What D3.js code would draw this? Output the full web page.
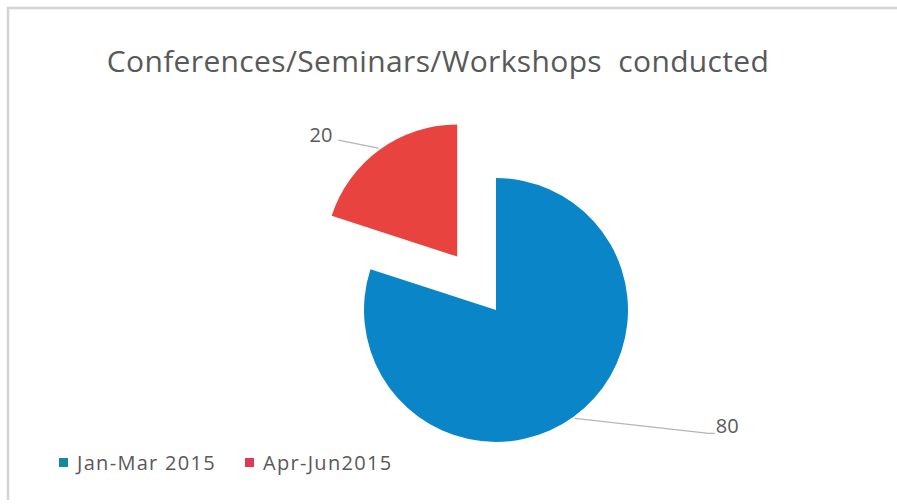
<!DOCTYPE html>
<html>
<head>
<meta charset="utf-8">
<script src="https://cdn.jsdelivr.net/npm/d3@7"></script>
<style>
  body { margin: 0; background: #fff; }
  svg { display: block; }
</style>
</head>
<body>
<svg id="chart" width="897" height="504"></svg>
<script>
var categories = ['Jan-Mar 2015', 'Apr-Jun2015'];
var values = [80, 20];
var colors = ['#0a86c8', '#e8433f'];
var legendColors = ['#15879f', '#dc3a55'];
var exploded = [false, true];

var svg = d3.select('#chart');
var W = 897, H = 504;
var cx = 496, cy = 310, radius = 132, explode = 66;

// chart frame (only top/left visible)
svg.append('path')
  .attr('d', 'M8,' + (H - 4) + ' L8,8 L' + W + ',8')
  .attr('fill', 'none')
  .attr('stroke', '#d4d4d4')
  .attr('stroke-width', 2.5);

svg.append('text')
  .attr('x', 438)
  .attr('y', 72)
  .attr('text-anchor', 'middle')
  .attr('font-family', 'Open Sans, sans-serif')
  .attr('font-size', 30)
  .attr('letter-spacing', 0.35)
  .attr('fill', '#595959')
  .style('white-space', 'pre')
  .text('Conferences/Seminars/Workshops  conducted');

var pie = d3.pie().sort(null).value(function (d) { return d; });
var arcs = pie(values);
var arc = d3.arc().innerRadius(0).outerRadius(radius);

function shift(d, i) {
  if (!exploded[i]) return [0, 0];
  var a = (d.startAngle + d.endAngle) / 2;
  return [Math.sin(a) * explode, -Math.cos(a) * explode];
}

var g = svg.append('g').attr('transform', 'translate(' + cx + ',' + cy + ')');

g.selectAll('path.slice')
  .data(arcs)
  .join('path')
  .attr('class', 'slice')
  .attr('d', arc)
  .attr('fill', function (d, i) { return colors[i]; })
  .attr('transform', function (d, i) {
    var s = shift(d, i);
    return 'translate(' + s[0] + ',' + s[1] + ')';
  });

// leader lines + labels (best-fit offsets like Excel)
var labelOffsets = [[140, 15], [-40, -8]];
var edgeArc = d3.arc().innerRadius(radius + 2).outerRadius(radius + 2);

arcs.forEach(function (d, i) {
  var s = shift(d, i);
  var c = edgeArc.centroid(d);
  var x0 = c[0] + s[0], y0 = c[1] + s[1];
  var x1 = x0 + labelOffsets[i][0], y1 = y0 + labelOffsets[i][1];
  var right = labelOffsets[i][0] > 0;
  g.append('path')
    .attr('d', 'M' + x0 + ',' + y0 + ' L' + (right ? x1 - 6 : x1) + ',' + y1 + (right ? ' L' + x1 + ',' + y1 : ''))
    .attr('fill', 'none')
    .attr('stroke', '#b5b5b5')
    .attr('stroke-width', 1.2);
  g.append('text')
    .attr('x', right ? x1 + 1 : x1 - 6)
    .attr('y', right ? y1 - 7 : y1 - 5.5)
    .attr('dy', '0.35em')
    .attr('text-anchor', right ? 'start' : 'end')
    .attr('font-family', 'Open Sans, sans-serif')
    .attr('font-size', 20)
    .attr('fill', '#595959')
    .text(d.data);
});

// legend
var legendX = [59, 245];
var legend = svg.append('g').selectAll('g')
  .data(categories)
  .join('g')
  .attr('transform', function (d, i) { return 'translate(' + legendX[i] + ',458)'; });

legend.append('rect')
  .attr('width', 9).attr('height', 9)
  .attr('fill', function (d, i) { return legendColors[i]; });

legend.append('text')
  .attr('x', 18)
  .attr('y', 5)
  .attr('dy', '0.35em')
  .attr('font-family', 'Open Sans, sans-serif')
  .attr('font-size', 20)
  .attr('letter-spacing', 1.3)
  .attr('fill', '#595959')
  .text(function (d) { return d; });
</script>
</body>
</html>
